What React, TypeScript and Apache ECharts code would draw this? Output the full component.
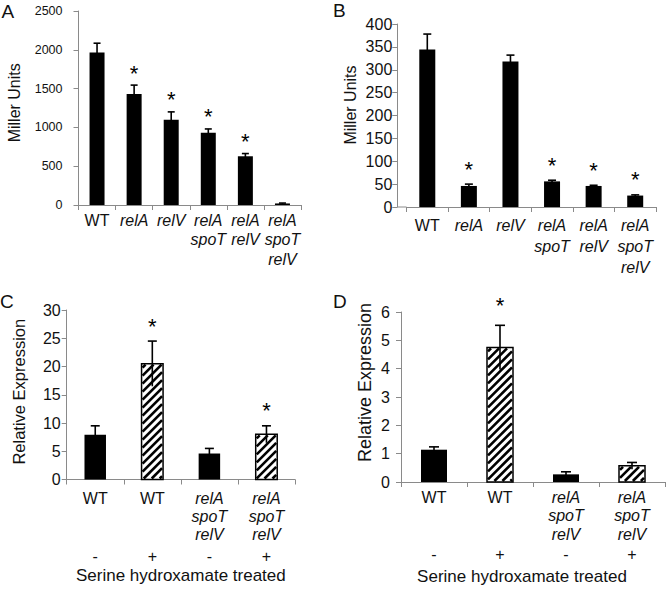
import React, { useEffect, useRef } from "react";
import * as echarts from "echarts";

const FONT = "'Liberation Sans', Arial, Helvetica, sans-serif";

// Panels A & B: strains
const catsAB = ["WT", "relA", "relV", "relA\nspoT", "relA\nrelV", "relA\nspoT\nrelV"];
const valuesA = [1965, 1430, 1100, 930, 628, 20];
const errorsA = [120, 115, 100, 50, 35, 5];
const sigA = [0, 1, 1, 1, 1, 0];
const valuesB = [344, 46, 318, 56, 46, 25];
const errorsB = [34, 4, 14, 2.5, 1.5, 1.5];
const sigB = [0, 1, 0, 1, 1, 1];

// Panels C & D: strains x serine hydroxamate treatment
const catsCD = ["WT", "WT", "relA\nspoT\nrelV", "relA\nspoT\nrelV"];
const treated = ["-", "+", "-", "+"];
const valuesC = [7.9, 20.5, 4.6, 8.0];
const errorsC = [1.6, 4.0, 0.9, 1.5];
const sigC = [0, 1, 0, 1];
const valuesD = [1.14, 4.75, 0.27, 0.57];
const errorsD = [0.1, 0.78, 0.09, 0.12];
const sigD = [0, 1, 0, 0];

const axisMaxA = 2500, intervalA = 500;
const axisMaxB = 400, intervalB = 50;
const axisMaxC = 30, intervalC = 5;
const axisMaxD = 6, intervalD = 1;

const nameAB = "Miller Units";
const nameCD = "Relative Expression";
const xNameCD = "Serine hydroxamate treated";
const panelLetters = ["A", "B", "C", "D"];

const AXIS_COLOR = "#8a8a8a";
const TEXT_COLOR = "#111";

function yAxisCfg(gi: number, max: number, interval: number, labelSize: number, labelMargin: number, offset = 0) {
  return {
    type: "value", gridIndex: gi, min: 0, max, interval, offset,
    axisLine: { show: true, lineStyle: { color: AXIS_COLOR, width: 1 } },
    axisTick: { show: true, inside: false, length: 5, lineStyle: { color: AXIS_COLOR } },
    splitLine: { show: false },
    axisLabel: { fontFamily: FONT, fontSize: labelSize, color: TEXT_COLOR, margin: labelMargin, formatter: (v: number) => String(v) },
  };
}

function richStyles(size: number, lh: number, signLh: number) {
  return {
    n: { fontFamily: FONT, fontSize: size, fontStyle: "normal", color: TEXT_COLOR, lineHeight: lh },
    i: { fontFamily: FONT, fontSize: size, fontStyle: "italic", color: TEXT_COLOR, lineHeight: lh },
    s: { fontFamily: FONT, fontSize: size, fontStyle: "normal", color: TEXT_COLOR, lineHeight: signLh },
  };
}

function fmtStrain(v: string) {
  if (v === "WT") return "{n|WT}";
  return v.split("\n").map((s) => `{i|${s}}`).join("\n");
}

function fmtTreated(v: string, idx: number) {
  const lines = v === "WT" ? ["{n|WT}", "{n| }", "{n| }"] : v.split("\n").map((s) => `{i|${s}}`);
  while (lines.length < 3) lines.push("{n| }");
  return lines.join("\n") + `\n{s|${treated[idx]}}`;
}

function errorSeries(gi: number, values: number[], errors: number[], sig: number[], capHalf: number, starOffset: number) {
  return {
    type: "custom", xAxisIndex: gi, yAxisIndex: gi, silent: true, z: 5,
    data: values.map((v, i) => [i, v, errors[i], sig[i]]),
    encode: { x: 0, y: 1 },
    renderItem: (params: any, api: any) => {
      const i = api.value(0), v = api.value(1), e = api.value(2), s = api.value(3);
      const hi = api.coord([i, v + e]);
      const lo = api.coord([i, Math.max(0, v - e)]);
      const children: any[] = [
        { type: "line", shape: { x1: hi[0], y1: hi[1], x2: lo[0], y2: lo[1] }, style: { stroke: "#000", lineWidth: 1.6 } },
        { type: "line", shape: { x1: hi[0] - capHalf, y1: hi[1], x2: hi[0] + capHalf, y2: hi[1] }, style: { stroke: "#000", lineWidth: 1.6 } },
      ];
      if (s) {
        children.push({
          type: "text", x: hi[0], y: hi[1] - starOffset + 5,
          style: { text: "*", fontSize: 22, fontFamily: FONT, fill: "#000", align: "center", verticalAlign: "middle" },
        });
      }
      return { type: "group", children };
    },
  };
}

function hatchSeries(gi: number, values: number[], barW: number) {
  return {
    type: "custom", xAxisIndex: gi, yAxisIndex: gi, silent: true, z: 3,
    data: values.map((v, i) => [i, v]).filter((d, i) => treated[i] === "+"),
    encode: { x: 0, y: 1 },
    renderItem: (params: any, api: any) => {
      const i = api.value(0), v = api.value(1);
      const top = api.coord([i, v]);
      const base = api.coord([i, 0]);
      const x0 = top[0] - barW / 2, x1 = top[0] + barW / 2, y0 = top[1], y1 = base[1];
      const children: any[] = [
        { type: "rect", shape: { x: x0, y: y0, width: barW, height: y1 - y0 }, style: { fill: "#fff" } },
      ];
      const period = 8;
      const inset = 1;
      const ax0 = x0 + inset, ax1 = x1 - inset, ay0 = y0 + inset, ay1 = y1 - inset;
      for (let c = ax0 + ay0 + 3; c < ax1 + ay1; c += period) {
        const xa = Math.max(ax0, c - ay1);
        const xb = Math.min(ax1, c - ay0);
        if (xb > xa) {
          children.push({ type: "line", shape: { x1: xa, y1: c - xa, x2: xb, y2: c - xb }, style: { stroke: "#000", lineWidth: 2.6 } });
        }
      }
      children.push({ type: "rect", shape: { x: x0, y: y0, width: barW, height: y1 - y0 }, style: { fill: "none", stroke: "#000", lineWidth: 1.5 } });
      return { type: "group", children };
    },
  };
}

function yName(text: string, x: number, y: number, size: number) {
  return {
    type: "text", x, y, rotation: Math.PI / 2,
    style: { text, fontFamily: FONT, fontSize: size, fill: TEXT_COLOR, align: "center", verticalAlign: "middle" },
  };
}

function letter(text: string, x: number, y: number) {
  return { type: "text", x, y, style: { text, fontFamily: FONT, fontSize: 19, fill: TEXT_COLOR, verticalAlign: "top" } };
}

export default function App() {
  const ref = useRef<HTMLDivElement>(null);
  useEffect(() => {
    if (!ref.current) return;
    const chart = echarts.init(ref.current, undefined, { renderer: "svg" });
    const grids = [
      { left: 78.5, top: 11, width: 222.5, height: 194 },
      { left: 406.5, top: 24, width: 249.5, height: 183 },
      { left: 66.7, top: 310, width: 228.3, height: 169.5 },
      { left: 401, top: 312, width: 264, height: 170 },
    ].map((g) => ({ ...g, containLabel: false, outerBoundsMode: "none" }));

    const xAxisAB = (gi: number, margin: number, lh: number) => ({
      type: "category", gridIndex: gi, data: catsAB,
      axisLine: { show: true, onZero: false, lineStyle: { color: AXIS_COLOR } },
      axisTick: { show: true, length: 5, alignWithLabel: false, lineStyle: { color: AXIS_COLOR } },
      axisLabel: { interval: 0, margin, fontFamily: FONT, fontSize: 16, color: TEXT_COLOR, formatter: fmtStrain, rich: richStyles(16, lh, lh) },
    });
    const xAxisCD = (gi: number, margin: number, lh: number, signLh: number, nameGap: number, namePadR: number) => ({
      type: "category", gridIndex: gi, data: catsCD,
      axisLine: { show: true, onZero: false, lineStyle: { color: AXIS_COLOR } },
      axisTick: { show: true, length: 5, alignWithLabel: false, lineStyle: { color: AXIS_COLOR } },
      axisLabel: { interval: 0, margin, fontFamily: FONT, fontSize: 16, color: TEXT_COLOR, formatter: fmtTreated, rich: richStyles(16, lh, signLh) },
      name: xNameCD, nameLocation: "middle", nameGap, nameMoveOverlap: false,
      nameTextStyle: { fontFamily: FONT, fontSize: 17, color: TEXT_COLOR, padding: [0, namePadR, 0, 0] },
    });

    const option: any = {
      animation: false,
      backgroundColor: "#fff",
      grid: grids,
      xAxis: [
        xAxisAB(0, 6, 19.2),
        xAxisAB(1, 8.5, 20.7),
        xAxisCD(2, 10, 18, 26, 87.5, 0),
        xAxisCD(3, 6.5, 18.3, 23, 85.5, 22),
      ],
      yAxis: [
        yAxisCfg(0, axisMaxA, intervalA, 12.5, 16),
        yAxisCfg(1, axisMaxB, intervalB, 16, 5, 9.2),
        yAxisCfg(2, axisMaxC, intervalC, 16, 6),
        yAxisCfg(3, axisMaxD, intervalD, 16, 11),
      ],
      series: [
        { type: "bar", xAxisIndex: 0, yAxisIndex: 0, data: valuesA, barWidth: 15, itemStyle: { color: "#000" }, silent: true },
        errorSeries(0, valuesA, errorsA, sigA, 3.5, 17),
        { type: "bar", xAxisIndex: 1, yAxisIndex: 1, data: valuesB, barWidth: 16, itemStyle: { color: "#000" }, silent: true },
        errorSeries(1, valuesB, errorsB, sigB, 4, 20),
        { type: "bar", xAxisIndex: 2, yAxisIndex: 2, data: valuesC.map((v, i) => (treated[i] === "-" ? v : null)), barWidth: 21.5, itemStyle: { color: "#000" }, silent: true },
        hatchSeries(2, valuesC, 21.5),
        errorSeries(2, valuesC, errorsC, sigC, 4.5, 20),
        { type: "bar", xAxisIndex: 3, yAxisIndex: 3, data: valuesD.map((v, i) => (treated[i] === "-" ? v : null)), barWidth: 26, itemStyle: { color: "#000" }, silent: true },
        hatchSeries(3, valuesD, 26),
        errorSeries(3, valuesD, errorsD, sigD, 5, 25),
      ],
      graphic: [
        { type: "line", shape: { x1: 397.3, y1: 207, x2: 406.5, y2: 207 }, style: { stroke: AXIS_COLOR, lineWidth: 1 } },
        yName(nameAB, 14.4, 102.8, 16),
        yName(nameAB, 350.7, 105, 16),
        yName(nameCD, 19, 391.7, 16.5),
        yName(nameCD, 364.6, 382.5, 18),
        letter(panelLetters[0], 1.5, 1.6),
        letter(panelLetters[1], 333, 0.6),
        letter(panelLetters[2], 0, 291.6),
        letter(panelLetters[3], 333, 291.6),
      ],
    };
    chart.setOption(option);
    return () => chart.dispose();
  }, []);
  return <div ref={ref} style={{ position: "absolute", left: 0, top: 0, width: 666, height: 593 }} />;
}
